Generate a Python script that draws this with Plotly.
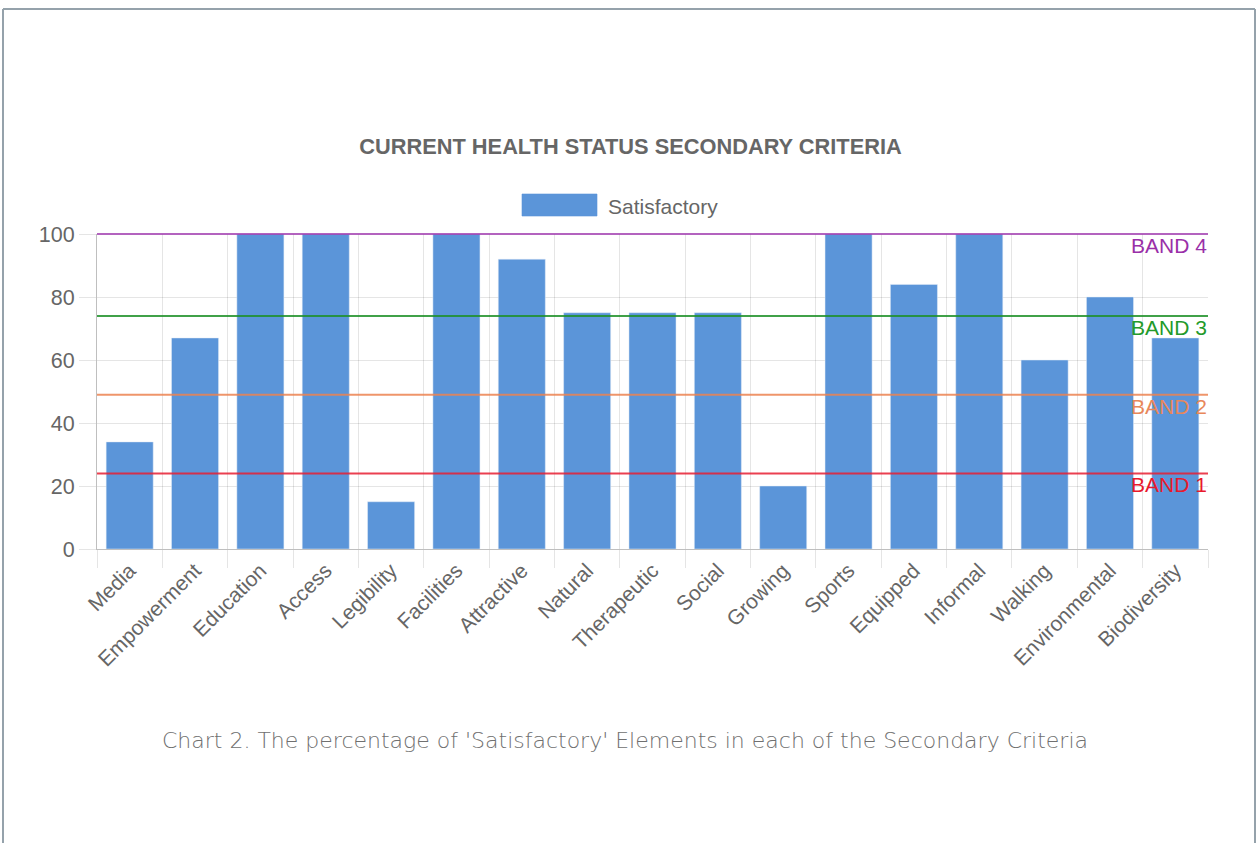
import plotly.graph_objects as go

categories = ["Media", "Empowerment", "Education", "Access", "Legibility", "Facilities",
              "Attractive", "Natural", "Therapeutic", "Social", "Growing", "Sports",
              "Equipped", "Informal", "Walking", "Environmental", "Biodiversity"]
satisfactory = [34, 67, 100, 100, 15, 100, 92, 75, 75, 75, 20, 100, 84, 100, 60, 80, 67]

band_names = ["BAND 1", "BAND 2", "BAND 3", "BAND 4"]
band_values = [24, 49, 74, 100]
band_line_colors = ["rgba(232,30,50,0.85)", "rgba(236,130,80,0.85)", "rgba(30,145,40,0.85)", "rgba(160,60,175,0.8)"]
band_text_colors = ["#e8192c", "#e8875a", "#239a2a", "#9a2fa8"]

title_text = "CURRENT HEALTH STATUS SECONDARY CRITERIA"
caption_text = "Chart 2. The percentage of 'Satisfactory' Elements in each of the Secondary Criteria"

Y_MAX = 100

W, H = 1257, 843
L, R, T, B = 97, 49, 234, 294
PW, PH = W - L - R, H - T - B


def px_x(x):
    return (x - L) / PW


def px_y(y):
    return (H - B - y) / PH


FONT = "Liberation Sans, Arial, Helvetica, sans-serif"
BAR = "#5b95d9"

fig = go.Figure()
fig.add_trace(go.Bar(x=categories, y=satisfactory, name="Satisfactory",
                     marker=dict(color=BAR), showlegend=False))

shapes = []
annotations = []
for name, val, lc, tc in zip(band_names, band_values, band_line_colors, band_text_colors):
    shapes.append(dict(type="line", xref="paper", yref="paper", x0=0, x1=1,
                       y0=val / Y_MAX, y1=val / Y_MAX,
                       line=dict(color=lc, width=2), layer="above"))
    annotations.append(dict(text=name, xref="paper", yref="y", x=1, y=val,
                            xanchor="right", yanchor="top", showarrow=False, yshift=1,
                            font=dict(family=FONT, size=21, color=tc), borderpad=0))

# legend box + label
shapes.append(dict(type="rect", xref="paper", yref="paper",
                   x0=px_x(522), x1=px_x(597), y0=px_y(216), y1=px_y(194),
                   fillcolor=BAR, line=dict(color="rgba(91,149,217,0.6)", width=1)))
annotations.append(dict(text="Satisfactory", xref="paper", yref="paper",
                        x=px_x(606), y=px_y(206), xanchor="left", yanchor="middle",
                        showarrow=False, font=dict(family=FONT, size=21, color="#666666")))

# caption
annotations.append(dict(text=caption_text, xref="paper", yref="paper",
                        x=px_x(625), y=px_y(740), xanchor="center", yanchor="middle",
                        showarrow=False,
                        font=dict(family="DejaVu Sans", size=22, weight=200, color="#707070")))

# page frame
frame_col = "#95a2ab"
shapes.append(dict(type="line", xref="paper", yref="paper", x0=px_x(3), x1=px_x(1255),
                   y0=px_y(9), y1=px_y(9), line=dict(color=frame_col, width=2)))
shapes.append(dict(type="line", xref="paper", yref="paper", x0=px_x(3), x1=px_x(3),
                   y0=px_y(9), y1=px_y(850), line=dict(color=frame_col, width=2)))
shapes.append(dict(type="line", xref="paper", yref="paper", x0=px_x(1255), x1=px_x(1255),
                   y0=px_y(9), y1=px_y(850), line=dict(color=frame_col, width=2)))

fig.update_layout(
    width=W, height=H,
    margin=dict(l=L, r=R, t=T, b=B, autoexpand=False),
    paper_bgcolor="white", plot_bgcolor="white",
    bargap=0.28,
    title=dict(text="<b>" + title_text + "</b>", x=630.5 / W, xanchor="center",
               y=1 - 146 / H, yanchor="middle",
               font=dict(family=FONT, size=21.8, color="#666666")),
    shapes=shapes, annotations=annotations,
    font=dict(family=FONT, color="#666666"),
)
fig.update_xaxes(type="category", tickson="boundaries", showgrid=True,
                 gridcolor="rgba(0,0,0,0.1)", gridwidth=1,
                 ticks="outside", ticklen=18, tickcolor="rgba(0,0,0,0.1)",
                 tickangle=-45, tickfont=dict(family=FONT, size=21, color="#666666"),
                 showline=True, linecolor="rgba(0,0,0,0.25)", linewidth=1,
                 range=[-0.5, len(categories) - 0.5])
fig.update_yaxes(range=[0, Y_MAX], dtick=20, showgrid=True, gridcolor="rgba(0,0,0,0.1)",
                 ticks="outside", ticklen=17, tickcolor="rgba(0,0,0,0.1)",
                 tickfont=dict(family=FONT, size=21.5, color="#666666"),
                 showline=True, linecolor="rgba(0,0,0,0.25)", linewidth=1,
                 zeroline=False)

fig.write_html("out.html")
